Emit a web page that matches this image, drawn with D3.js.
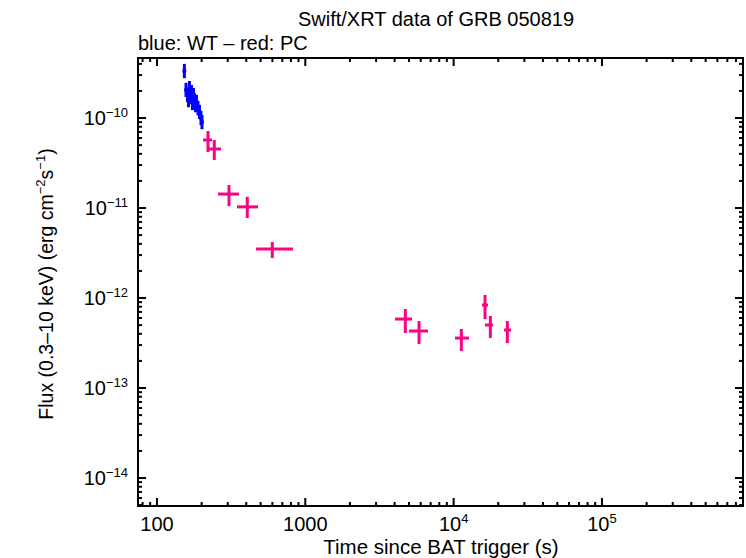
<!DOCTYPE html>
<html>
<head>
<meta charset="utf-8">
<script src="https://cdn.jsdelivr.net/npm/d3@7"></script>
<style>
  body { margin: 0; background: #fff; }
  text { font-family: "Liberation Sans", Arial, sans-serif; fill: #000; }
</style>
</head>
<body>
<script>
var W = 746, H = 558;
var pLeft = 138, pRight = 743, pTop = 58, pBottom = 506;

// WT mode (blue)
var wtTime  = [153, 157, 160.6, 163.1, 165.6, 168.2, 170.8, 173.5, 176.2, 179, 181.8, 184.6, 189, 193.4, 198, 201.1];
var wtFlux  = [3.33e-10, 2.05e-10, 1.80e-10, 1.58e-10, 2.15e-10, 1.71e-10, 1.94e-10, 1.47e-10, 1.80e-10, 1.58e-10, 1.39e-10, 1.51e-10, 1.29e-10, 1.17e-10, 1.00e-10, 0.90e-10];
var wtErr   = 1.2;   // multiplicative flux error
var wtTErr  = 1.03;  // multiplicative time half-width

// PC mode (red)
var pcTime  = [220.8, 243.5, 305.9, 406.3, 599.1, 4724, 5845, 11270, 16280, 17680, 23020];
var pcTLo   = [204.3, 220.8, 257.8, 346.3, 465.1, 4027, 5003, 10220, 15540, 16280, 21870];
var pcTHi   = [234.9, 270.2, 357.3, 479.7, 826.3, 5243, 6721, 12700, 17060, 18440, 24380];
var pcFlux  = [5.70e-11, 4.53e-11, 1.43e-11, 1.03e-11, 3.50e-12, 5.84e-13, 4.30e-13, 3.59e-13, 8.36e-13, 5.01e-13, 4.41e-13];
var pcFLo   = [4.19e-11, 3.42e-11, 1.05e-11, 7.74e-12, 2.78e-12, 4.08e-13, 3.08e-13, 2.58e-13, 5.84e-13, 3.59e-13, 3.16e-13];
var pcFHi   = [7.17e-11, 5.70e-11, 1.80e-11, 1.33e-11, 4.19e-12, 7.55e-13, 5.55e-13, 4.53e-13, 1.08e-12, 6.31e-13, 5.55e-13];

var xMajor = [100, 1000, 1e4, 1e5];
var xLabels = [["100", ""], ["1000", ""], ["10", "4"], ["10", "5"]];
var yMajor = [1e-10, 1e-11, 1e-12, 1e-13, 1e-14];
var yLabels = ["\u221210", "\u221211", "\u221212", "\u221213", "\u221214"];

var x = d3.scaleLog().domain([74.5, 893000]).range([pLeft, pRight]);
var y = d3.scaleLog().domain([Math.pow(10, -14.311), Math.pow(10, -9.333)]).range([pBottom, pTop]);

var svg = d3.select("body").append("svg").attr("width", W).attr("height", H);

// minor ticks
var xMinor = [], yMinor = [];
for (var e = 1; e <= 5; e++) for (var m = 2; m <= 9; m++) {
  var v = m * Math.pow(10, e);
  if (v > x.domain()[0] && v < x.domain()[1]) xMinor.push(v);
}
for (var e = -15; e <= -10; e++) for (var m = 2; m <= 9; m++) {
  var v = m * Math.pow(10, e);
  if (v > y.domain()[0] && v < y.domain()[1]) yMinor.push(v);
}

var g = svg.append("g").attr("stroke", "#000").attr("stroke-width", 2);
function xticks(vals, len) {
  vals.forEach(function (v) {
    g.append("line").attr("x1", x(v)).attr("x2", x(v)).attr("y1", pBottom).attr("y2", pBottom - len);
    g.append("line").attr("x1", x(v)).attr("x2", x(v)).attr("y1", pTop).attr("y2", pTop + len);
  });
}
function yticks(vals, len) {
  vals.forEach(function (v) {
    g.append("line").attr("y1", y(v)).attr("y2", y(v)).attr("x1", pLeft).attr("x2", pLeft + len);
    g.append("line").attr("y1", y(v)).attr("y2", y(v)).attr("x1", pRight).attr("x2", pRight - len);
  });
}
xticks(xMinor, 4); xticks(xMajor, 8);
yticks(yMinor, 4); yticks(yMajor, 8);

g.append("rect").attr("x", pLeft).attr("y", pTop).attr("width", pRight - pLeft).attr("height", pBottom - pTop)
  .attr("fill", "none");

// tick labels
xMajor.forEach(function (v, i) {
  var t = svg.append("text").attr("x", x(v)).attr("y", 531).attr("text-anchor", "middle")
    .attr("font-size", 20).text(xLabels[i][0]);
  if (xLabels[i][1]) t.append("tspan").attr("dy", -8).attr("font-size", 13).text(xLabels[i][1]);
});
yMajor.forEach(function (v, i) {
  var t = svg.append("text").attr("x", 128).attr("y", y(v) + 7).attr("text-anchor", "end")
    .attr("font-size", 20).text("10");
  t.append("tspan").attr("dy", -8).attr("font-size", 13).text(yLabels[i]);
});

// titles
svg.append("text").attr("x", 436).attr("y", 26).attr("text-anchor", "middle").attr("font-size", 20)
  .text("Swift/XRT data of GRB 050819");
svg.append("text").attr("x", 138).attr("y", 50).attr("font-size", 20)
  .text("blue: WT \u2013 red: PC");
svg.append("text").attr("x", 441).attr("y", 554).attr("text-anchor", "middle").attr("font-size", 20.5)
  .text("Time since BAT trigger (s)");
var yl = svg.append("text").attr("transform", "translate(53," + 284 + ") rotate(-90)")
  .attr("text-anchor", "middle").attr("font-size", 19.5).text("Flux (0.3\u201310 keV) (erg cm");
yl.append("tspan").attr("dy", -8).attr("font-size", 13).text("\u22122");
yl.append("tspan").attr("dy", 8).text("s");
yl.append("tspan").attr("dy", -8).attr("font-size", 13).text("\u22121");
yl.append("tspan").attr("dy", 8).text(")");

// data: WT
var wt = svg.append("g").attr("stroke", "#0000ff").attr("stroke-width", 3);
wtTime.forEach(function (t, i) {
  wt.append("line").attr("x1", x(t)).attr("x2", x(t)).attr("y1", y(wtFlux[i] / wtErr)).attr("y2", y(wtFlux[i] * wtErr));
  wt.append("line").attr("x1", x(t / wtTErr)).attr("x2", x(t * wtTErr)).attr("y1", y(wtFlux[i])).attr("y2", y(wtFlux[i]));
});

// data: PC
var pc = svg.append("g").attr("stroke", "#ff0080").attr("stroke-width", 3);
pcTime.forEach(function (t, i) {
  pc.append("line").attr("x1", x(t)).attr("x2", x(t)).attr("y1", y(pcFLo[i])).attr("y2", y(pcFHi[i]));
  pc.append("line").attr("x1", x(pcTLo[i])).attr("x2", x(pcTHi[i])).attr("y1", y(pcFlux[i])).attr("y2", y(pcFlux[i]));
});
</script>
</body>
</html>
